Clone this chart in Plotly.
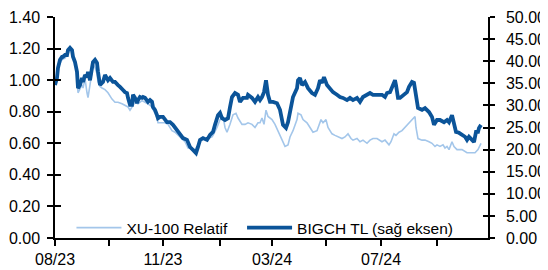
import plotly.graph_objects as go

# trading-session index along the category axis
bigch_t = [0, 2, 3, 5, 7, 8, 10, 12, 13, 15, 17, 18, 20, 22, 23, 25, 27, 28, 30, 32, 33, 35, 37, 38, 40,
           42, 43, 45, 47, 48, 50, 52, 53, 55, 57, 58, 60, 62, 63, 65, 67, 68, 70, 72, 73, 75, 77, 78, 80,
           82, 83, 85, 87, 88, 90, 92, 93, 95, 97, 98, 100, 102, 103, 105, 108, 112, 115, 118, 122, 125,
           128, 132, 135, 138, 141, 143, 145, 148, 152, 155, 158, 160, 163, 165, 167, 170, 173, 175, 177,
           180, 183, 185, 188, 192, 193, 197, 200, 203, 205, 207, 209, 211, 213, 215, 218, 222, 225, 228,
           231, 233, 236, 238, 242, 243, 245, 247, 250, 253, 257, 260, 263, 265, 267, 269, 272, 275, 278,
           282, 285, 288, 292, 295, 298, 302, 305, 308, 312, 315, 318, 322, 327, 330, 332, 335, 338, 340,
           341, 343, 345, 349, 352, 354, 357, 359, 361, 363, 367, 370, 374, 377, 379, 382, 385, 389, 392,
           394, 397, 399, 401, 404, 407, 410, 412, 414, 417, 419, 421, 423, 424, 426]
bigch_tl = [34.6, 36.2, 38.5, 40.3, 41.0, 41.0, 41.4, 41.4, 42.5, 43.0, 42.5, 41.0, 39.8, 37.6, 33.9, 34.6,
            36.2, 35.3, 36.9, 36.4, 37.6, 35.7, 38.5, 39.8, 40.3, 39.6, 37.6, 34.6, 35.1, 35.3, 36.9, 36.2,
            35.7, 36.2, 35.7, 35.3, 35.3, 34.6, 34.6, 34.2, 33.9, 33.5, 33.0, 32.8, 31.7, 30.1, 30.1, 32.4,
            31.7, 30.5, 31.2, 31.9, 31.7, 31.9, 31.7, 31.2, 30.8, 31.2, 30.8, 29.6, 29.0, 27.8, 27.1, 27.4,
            27.4, 26.2, 26.2, 25.6, 24.4, 23.8, 22.6, 22.2, 20.6, 19.9, 19.2, 20.6, 22.2, 22.6, 22.2, 23.3,
            24.0, 25.6, 27.8, 28.3, 27.1, 26.7, 27.1, 29.6, 31.9, 32.8, 32.4, 30.8, 31.7, 31.7, 32.4, 31.7,
            30.8, 31.9, 31.2, 31.9, 33.0, 35.7, 32.4, 30.8, 30.8, 30.5, 29.0, 25.6, 24.9, 26.2, 29.6, 31.9,
            33.9, 35.7, 36.2, 34.6, 35.3, 33.9, 32.8, 32.4, 33.9, 35.7, 35.1, 36.4, 34.6, 33.9, 33.0, 32.4,
            31.9, 31.7, 31.2, 31.7, 31.2, 31.7, 30.8, 31.9, 32.4, 32.8, 32.4, 32.4, 32.4, 31.9, 32.8, 33.0,
            34.6, 35.7, 34.6, 31.7, 31.7, 32.4, 33.0, 34.2, 35.3, 35.1, 32.8, 29.4, 29.0, 29.4, 28.5, 27.4,
            25.6, 26.7, 26.7, 26.2, 26.7, 26.2, 27.8, 25.6, 24.0, 23.8, 23.3, 22.9, 22.2, 22.9, 22.2, 21.7,
            24.0, 24.0, 24.9, 25.6]

xu_t = [0, 3, 7, 10, 13, 15, 17, 18, 20, 22, 23, 25, 27, 28, 30, 32, 33, 35, 37, 38, 40, 42, 43, 45, 47,
        50, 53, 57, 60, 63, 67, 70, 73, 75, 77, 80, 83, 87, 90, 93, 97, 100, 102, 103, 105, 110, 113, 117,
        120, 123, 127, 130, 133, 137, 140, 143, 147, 150, 153, 157, 158, 162, 165, 168, 170, 172, 175, 178,
        181, 183, 187, 190, 193, 197, 200, 203, 205, 207, 209, 211, 213, 217, 220, 223, 227, 230, 233, 235,
        238, 242, 243, 246, 248, 252, 255, 258, 262, 264, 266, 268, 271, 273, 277, 280, 283, 287, 290, 293,
        296, 298, 302, 305, 308, 312, 315, 318, 322, 327, 330, 334, 336, 339, 341, 344, 347, 350, 353, 355,
        358, 360, 361, 363, 367, 370, 374, 377, 380, 382, 385, 388, 390, 392, 394, 397, 399, 402, 407, 412,
        417, 420, 423, 425, 426]
xu100_rel = [0.97, 1.08, 1.13, 1.14, 1.17, 1.19, 1.18, 1.14, 1.11, 1.03, 0.92, 0.95, 0.97, 0.95, 1.01, 0.92,
             0.89, 0.97, 1.05, 1.10, 1.08, 1.04, 0.99, 0.96, 0.95, 0.94, 0.92, 0.88, 0.86, 0.86, 0.85, 0.84,
             0.83, 0.81, 0.83, 0.86, 0.85, 0.87, 0.86, 0.85, 0.83, 0.79, 0.76, 0.73, 0.73, 0.73, 0.72, 0.68,
             0.67, 0.65, 0.63, 0.61, 0.57, 0.57, 0.56, 0.59, 0.62, 0.63, 0.63, 0.64, 0.65, 0.70, 0.75, 0.77,
             0.70, 0.67, 0.72, 0.78, 0.79, 0.76, 0.72, 0.72, 0.73, 0.72, 0.70, 0.73, 0.73, 0.76, 0.72, 0.81,
             0.77, 0.75, 0.72, 0.68, 0.62, 0.58, 0.59, 0.64, 0.68, 0.75, 0.79, 0.78, 0.75, 0.73, 0.70, 0.67,
             0.68, 0.72, 0.75, 0.73, 0.75, 0.70, 0.66, 0.65, 0.64, 0.63, 0.64, 0.66, 0.63, 0.62, 0.63, 0.61,
             0.62, 0.60, 0.62, 0.63, 0.63, 0.61, 0.62, 0.59, 0.61, 0.66, 0.65, 0.67, 0.68, 0.70, 0.72, 0.73,
             0.75, 0.77, 0.70, 0.63, 0.62, 0.62, 0.61, 0.60, 0.58, 0.59, 0.58, 0.59, 0.57, 0.58, 0.56, 0.61,
             0.58, 0.56, 0.56, 0.54, 0.54, 0.54, 0.56, 0.59, 0.60]

tick_pos = [0, 54, 108, 165, 217, 271, 326, 382]
tick_text = ["08/23", "", "11/23", "", "03/24", "", "07/24", ""]

FONT = "Liberation Sans, Arial, sans-serif"
DARK = "#0B5499"
LIGHT = "#A3C6EA"

fig = go.Figure()
fig.add_trace(go.Scatter(x=xu_t, y=xu100_rel, name="XU-100 Relatif", mode="lines",
                         line=dict(color=LIGHT, width=1.6), yaxis="y", legend="legend"))
fig.add_trace(go.Scatter(x=bigch_t, y=bigch_tl, name="BIGCH TL (sağ eksen)", mode="lines",
                         line=dict(color=DARK, width=3.8), yaxis="y2", legend="legend2"))

axis_common = dict(showgrid=False, zeroline=False, linecolor="black", linewidth=1.5, automargin=False,
                   tickcolor="black", tickwidth=1.5, tickfont=dict(family=FONT, size=16, color="black"))

legend_common = dict(orientation="h", y=0.045, xanchor="left", yanchor="middle",
                     bgcolor="rgba(0,0,0,0)", font=dict(family=FONT, size=15.5, color="black"),
                     itemwidth=45)

# the page body adds an 8px offset, so the figure is 8px smaller on each of those sides
fig.update_layout(
    width=540, height=262,
    margin=dict(l=47, r=60, t=9, b=32),
    paper_bgcolor="white", plot_bgcolor="white",
    showlegend=True,
    legend=dict(x=0.038, **legend_common),
    legend2=dict(x=0.432, **legend_common),
    xaxis=dict(range=[0, 433], tickmode="array", tickvals=tick_pos, ticktext=tick_text,
               ticks="outside", ticklen=6, showline=True, **axis_common),
    yaxis=dict(range=[0, 1.4], tickmode="linear", tick0=0, dtick=0.2, tickformat=".2f",
               ticks="outside", ticklen=6, showline=True, ticklabelstandoff=4, **axis_common),
    yaxis2=dict(range=[0, 50], tickmode="linear", tick0=0, dtick=5, tickformat=".2f",
                overlaying="y", side="right", ticks="outside", ticklen=5, showline=True,
                ticklabelstandoff=8, **axis_common),
    yaxis3=dict(range=[0, 1.4], tickmode="linear", tick0=0, dtick=0.2, overlaying="y", side="left",
                ticks="inside", ticklen=6, showticklabels=False, showline=False, showgrid=False,
                zeroline=False, tickcolor="black", tickwidth=1.5, automargin=False),
    yaxis4=dict(range=[0, 50], tickmode="linear", tick0=0, dtick=5, overlaying="y", side="right",
                ticks="inside", ticklen=5, showticklabels=False, showline=False, showgrid=False,
                zeroline=False, tickcolor="black", tickwidth=1.5, automargin=False),
)
# invisible carriers so the inner tick axes are drawn
fig.add_trace(go.Scatter(x=[None], y=[None], yaxis="y3", showlegend=False, hoverinfo="skip"))
fig.add_trace(go.Scatter(x=[None], y=[None], yaxis="y4", showlegend=False, hoverinfo="skip"))

fig.write_html("out.html")
